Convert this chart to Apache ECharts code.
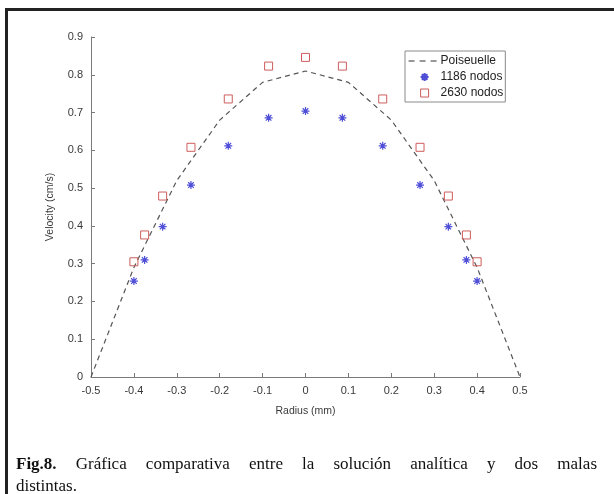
<!DOCTYPE html>
<html>
<head>
<meta charset="utf-8">
<script src="https://cdn.jsdelivr.net/npm/echarts@6/dist/echarts.min.js"></script>
<style>
  html, body { margin: 0; padding: 0; background: #fff; }
  #chart { width: 614px; height: 494px; }
</style>
</head>
<body>
<div id="chart"></div>
<script>
// radius positions of the numerical nodes (mm)
const nodeRadius = [-0.4, -0.375, -0.333, -0.267, -0.18, -0.086, 0, 0.086, 0.18, 0.267, 0.333, 0.375, 0.4]
const vel1186 = [0.254, 0.310, 0.398, 0.508, 0.612, 0.686, 0.704, 0.686, 0.612, 0.508, 0.398, 0.310, 0.254]
const vel2630 = [0.305, 0.376, 0.479, 0.608, 0.736, 0.823, 0.846, 0.823, 0.736, 0.608, 0.479, 0.376, 0.305]

// analytic profile
const poisRadius = [-0.5, -0.4, -0.3, -0.2, -0.1, 0, 0.1, 0.2, 0.3, 0.4, 0.5]
const poisVel = [0, 0.29, 0.52, 0.68, 0.78, 0.81, 0.78, 0.68, 0.52, 0.29, 0]

const seriesNames = ['Poiseuelle', '1186 nodos', '2630 nodos']
const captionWords = ['Fig.8.', 'Gráfica', 'comparativa', 'entre', 'la', 'solución', 'analítica', 'y', 'dos', 'malas']
const captionLine2 = 'distintas.'

const zip = (xs, ys) => xs.map((x, i) => [x, ys[i]])

const starPath = 'path://M0,5L10,5M5,0L5,10M1.5,1.5L8.5,8.5M8.5,1.5L1.5,8.5'
const squarePath = 'path://M0,0L10,0L10,10L0,10Z'
const axisGray = '#7a7a7a'
const labelColor = '#3a3a3a'
const blue = '#2222cc'
const red = '#cf5c5c'
const tickFmt = v => (Math.abs(v) < 1e-9 ? '0' : (+v).toFixed(1))

// justify first caption line by measuring words
const captionFont = '17px "Liberation Serif"'
const captionBold = 'bold 17px "Liberation Serif"'
const ctx = document.createElement('canvas').getContext('2d')
const widths = captionWords.map((w, i) => {
  ctx.font = i === 0 ? captionBold : captionFont
  return ctx.measureText(w).width
})
const lineLeft = 16, lineRight = 597
const gap = (lineRight - lineLeft - widths.reduce((a, b) => a + b, 0)) / (captionWords.length - 1)
let cx = lineLeft
const captionEls = captionWords.map((w, i) => {
  const el = {
    type: 'text', left: cx, top: 456,
    style: { text: w, font: i === 0 ? captionBold : captionFont, fill: '#111' }
  }
  cx += widths[i] + gap
  return el
})
captionEls.push({
  type: 'text', left: lineLeft, top: 478,
  style: { text: captionLine2, font: captionFont, fill: '#111' }
})

const chart = echarts.init(document.getElementById('chart'))

chart.setOption({
  backgroundColor: '#fff',
  animation: false,
  grid: { left: 91, right: 94, top: 37, bottom: 117 },
  legend: {
    orient: 'vertical',
    left: 405, top: 51,
    padding: [4, 2, 3, 3],
    itemGap: 4,
    itemWidth: 32, itemHeight: 8,
    backgroundColor: '#fff',
    borderColor: '#8a8a8a',
    borderWidth: 1,
    borderRadius: 0,
    selectedMode: false,
    textStyle: { fontFamily: 'Liberation Sans', fontSize: 12, lineHeight: 12, color: '#222', padding: [0, 0, 0, -5] },
    data: [
      {
        name: seriesNames[0],
        itemStyle: { color: 'rgba(0,0,0,0)', borderColor: 'rgba(0,0,0,0)', borderWidth: 0 },
        lineStyle: { color: '#333', width: 1.2, type: [6, 5] }
      },
      { name: seriesNames[1] },
      {
        name: seriesNames[2],
        icon: squarePath,
        itemStyle: { color: 'rgba(0,0,0,0)', borderColor: red, borderWidth: 1 }
      }
    ]
  },
  xAxis: {
    type: 'value', min: -0.5, max: 0.5, interval: 0.1,
    name: 'Radius (mm)', nameLocation: 'middle', nameGap: 29,
    nameTextStyle: { fontFamily: 'Liberation Sans', fontSize: 10.5, color: labelColor },
    axisLine: { onZero: false, lineStyle: { color: axisGray, width: 1 } },
    axisTick: { inside: true, length: 4, lineStyle: { color: axisGray } },
    axisLabel: { fontFamily: 'Liberation Sans', fontSize: 11, color: labelColor, margin: 8, formatter: tickFmt },
    splitLine: { show: false }
  },
  yAxis: {
    type: 'value', min: 0, max: 0.9, interval: 0.1,
    name: 'Velocity (cm/s)', nameLocation: 'middle', nameGap: 35,
    nameTextStyle: { fontFamily: 'Liberation Sans', fontSize: 10.5, color: labelColor },
    axisLine: { show: true, onZero: false, lineStyle: { color: axisGray, width: 1 } },
    axisTick: { show: true, inside: true, length: 4, lineStyle: { color: axisGray } },
    axisLabel: { fontFamily: 'Liberation Sans', fontSize: 11, color: labelColor, margin: 8, formatter: tickFmt },
    splitLine: { show: false }
  },
  series: [
    {
      name: seriesNames[0],
      type: 'line',
      data: zip(poisRadius, poisVel),
      symbol: 'none',
      silent: true,
      lineStyle: { color: '#555', width: 1.2, type: [5, 4] },
      itemStyle: { color: '#555' },
      z: 2
    },
    {
      name: seriesNames[1],
      type: 'scatter',
      data: zip(nodeRadius, vel1186),
      symbol: starPath,
      symbolSize: 8,
      silent: true,
      emphasis: { disabled: true },
      itemStyle: { color: 'rgba(0,0,0,0)', borderColor: blue, borderWidth: 1.2 },
      z: 3
    },
    {
      name: seriesNames[2],
      type: 'line',
      data: zip(nodeRadius, vel2630),
      symbol: squarePath,
      symbolSize: 8,
      showSymbol: true,
      showAllSymbol: true,
      silent: true,
      emphasis: { disabled: true },
      lineStyle: { width: 0, opacity: 0 },
      itemStyle: { color: 'rgba(0,0,0,0)', borderColor: red, borderWidth: 1 },
      z: 6
    }
  ],
  graphic: [
    // figure frame (top and left edges visible)
    { type: 'rect', shape: { x: 5, y: 8, width: 609, height: 3 }, style: { fill: '#222' }, silent: true },
    { type: 'rect', shape: { x: 5, y: 8, width: 3, height: 486 }, style: { fill: '#222' }, silent: true },
    ...captionEls
  ]
})
</script>
</body>
</html>
